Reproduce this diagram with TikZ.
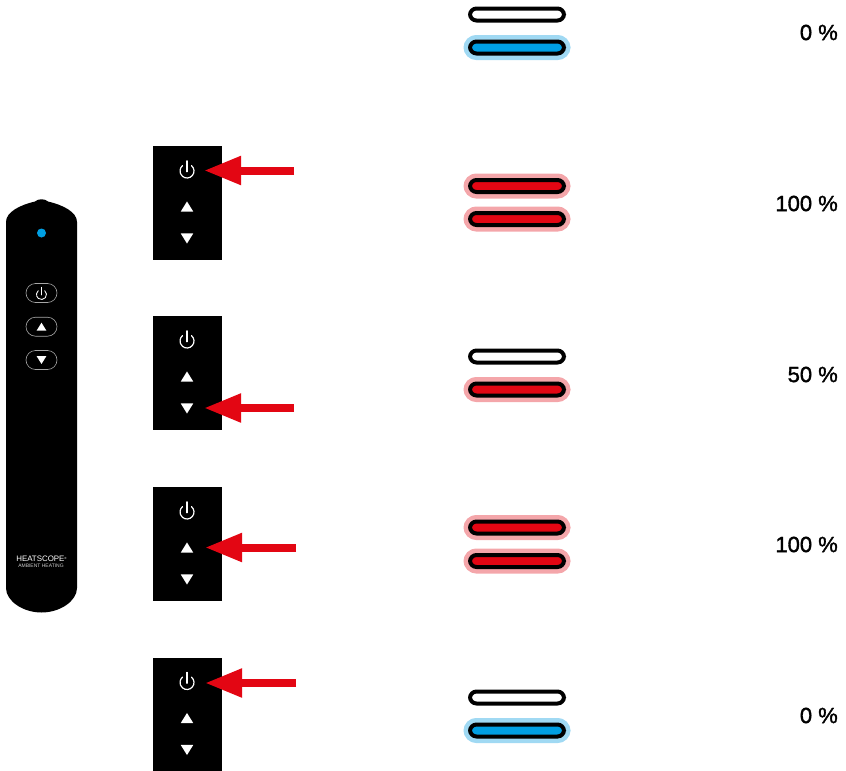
\documentclass[tikz,border=0pt]{standalone}
\usepackage{fontspec}
\setmainfont{Liberation Sans}
\newfontfamily\pctfont[FakeBold=1.6]{Liberation Sans}
\usetikzlibrary{arrows.meta,calc}
\definecolor{hblue}{HTML}{009FE3}
\definecolor{hbluelt}{HTML}{A0D9F3}
\definecolor{hred}{HTML}{E30613}
\definecolor{hredlt}{HTML}{F4A6AA}
\tikzset{
  x=1pt,y=-1pt,
  panel/.style={fill=black,draw=none,minimum width=69pt,minimum height=114pt,inner sep=0pt,outer sep=0pt},
  ptlabel/.style={anchor=east,inner sep=0pt,font=\pctfont\fontsize{22}{24}\selectfont},
  barbase/.style={draw=black,line width=4pt,rounded corners=6.5pt,minimum width=94pt,minimum height=12pt,inner sep=0pt,outer sep=0pt},
  baroff/.style={barbase,fill=white},
  barblue/.style={barbase,fill=hblue,preaction={draw=hbluelt,line width=13pt,rounded corners=6.5pt}},
  barred/.style={barbase,fill=hred,preaction={draw=hredlt,line width=13pt,rounded corners=6.5pt}},
  bigarrow/.style={draw=hred,line width=8pt,-{Triangle[length=37pt,width=27pt,fill=hred]}},
  anchorpt/.style={inner sep=0pt,minimum size=34pt,outer sep=0pt},
  rbtn/.style={draw=white!65!black,line width=.6pt,rounded corners=9.5pt,minimum width=31pt,minimum height=19pt,inner sep=0pt,outer sep=0pt}
}
\newcommand{\powicon}[3]{% x y radius
  \draw[white,line width=#3pt*0.17,line cap=round] (#1,#2)++(-50:#3) arc[start angle=-50,end angle=230,radius=#3];
  \draw[white,line width=#3pt*0.17,line cap=round] (#1,#2)++(0,-#3*1.45) -- ++(0,#3*1.55);
}
\newcommand{\uptri}[3]{\fill[white] (#1,#2)++(0,-#3*0.42) -- ++(#3*0.52,#3*0.84) -- ++(-#3*1.04,0) -- cycle;}
\newcommand{\dntri}[3]{\fill[white] (#1,#2)++(0,#3*0.42) -- ++(#3*0.52,-#3*0.84) -- ++(-#3*1.04,0) -- cycle;}
\newcommand{\panelat}[2]{% name, top y
  \node[panel,anchor=north west] (#1) at (153,#2) {};
  \powicon{187}{#2+25}{7}
  \uptri{187}{#2+60.5}{12}
  \dntri{187}{#2+92.5}{12}
  \node[anchorpt] (#1p) at (187,#2+24.5) {};
  \node[anchorpt] (#1u) at (187,#2+60.5) {};
  \node[anchorpt] (#1d) at (187,#2+92) {};
}
\begin{document}
\begin{tikzpicture}
\useasboundingbox (0,0) rectangle (846,771);
% remote
\fill[black] (6,222) .. controls (6,212) and (20,205) .. (35,201.5) .. controls (38,198.5) and (45,198.5) .. (48,201.5)
  .. controls (63,205) and (77,212) .. (77,222) -- (77,588) .. controls (77,601) and (60,612.5) .. (41.5,612.5)
  .. controls (23,612.5) and (6,601) .. (6,588) -- cycle;
\fill[hblue] (41.5,233) circle[radius=4.5];
\node[rbtn] (b1) at (41.5,293) {};
\node[rbtn] (b2) at (41.5,326.7) {};
\node[rbtn] (b3) at (41.5,360) {};
\powicon{41.5}{294.5}{5}
\uptri{41.5}{326.7}{9.5}
\dntri{41.5}{360}{9.5}
\node[text=white,inner sep=0pt,font=\fontsize{7.9}{8}\selectfont] (logo) at (41.5,559) {HEATSCOPE\raisebox{2pt}{\fontsize{3}{3}\selectfont ®}};
\node[text=white!80!black,inner sep=0pt,font=\fontsize{5}{6}\selectfont] (sub) at (41,565.5) {AMBIENT HEATING};
% panels
\panelat{pa}{146}
\panelat{pb}{316}
\panelat{pc}{487}
\panelat{pd}{657.5}
% arrows
\coordinate (ta) at ($(pap.east)+(90,0)$);
\coordinate (tb) at ($(pbd.east)+(90,0)$);
\coordinate (tc) at ($(pcu.east)+(92,0)$);
\coordinate (td) at ($(pdp.east)+(92,1)$);
\draw[bigarrow] (ta) -- (pap.east);
\draw[bigarrow] (tb) -- (pbd.east);
\draw[bigarrow] (tc) -- ($(pcu.east)+(1,0)$);
\draw[bigarrow] (td) -- ($(pdp.east)+(1,1)$);
% bars
\node[baroff] (r1a) at (517,14.5) {};
\node[barblue] (r1b) at (517,47.5) {};
\node[barred] (r2a) at (517,186) {};
\node[barred] (r2b) at (517,219) {};
\node[baroff] (r3a) at (517,356.5) {};
\node[barred] (r3b) at (517,389.5) {};
\node[barred] (r4a) at (517,527.5) {};
\node[barred] (r4b) at (517,561) {};
\node[baroff] (r5a) at (517,697.5) {};
\node[barblue] (r5b) at (517,730.5) {};
% labels
\node[ptlabel] (l1) at (838,32.5) {0 \%};
\node[ptlabel] (l2) at (838,203.5) {100 \%};
\node[ptlabel] (l3) at (838,374.5) {50 \%};
\node[ptlabel] (l4) at (838,544.5) {100 \%};
\node[ptlabel] (l5) at (838,715.5) {0 \%};
\end{tikzpicture}
\end{document}
